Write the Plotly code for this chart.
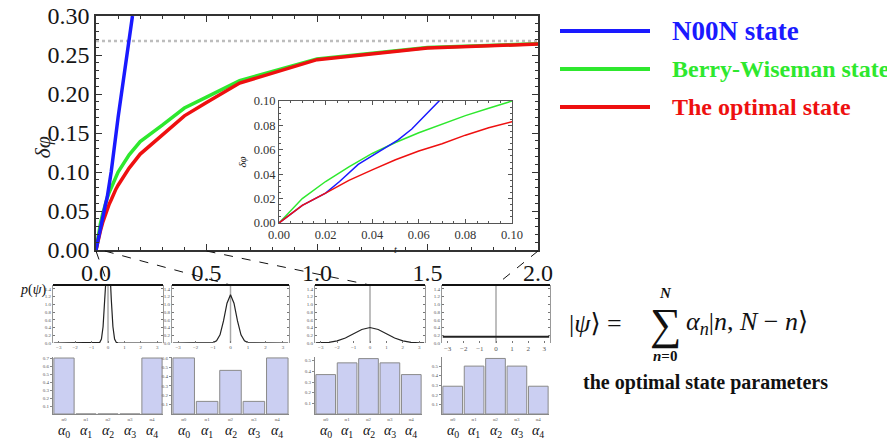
import plotly.graph_objects as go

W, H = 895, 439
OFF = 8                      # default page margin of the html body
FW, FH = W - OFF, H - OFF    # figure size so that it fits the window

# ---------------- data ----------------
t_curve = [0, 0.01, 0.02, 0.03, 0.04, 0.05, 0.06, 0.07, 0.08, 0.09, 0.1,
           0.15, 0.2, 0.3, 0.4, 0.5, 0.65, 1.0, 1.5, 2.0]
bw_dphi = [0, 0.02, 0.034, 0.046, 0.057, 0.066, 0.074, 0.081, 0.088, 0.094, 0.100,
           0.122, 0.139, 0.160, 0.182, 0.196, 0.217, 0.245, 0.2595, 0.2645]
opt_dphi = [0, 0.0145, 0.0245, 0.035, 0.0436, 0.0518, 0.059, 0.065, 0.072, 0.078, 0.083,
            0.105, 0.123, 0.148, 0.172, 0.189, 0.214, 0.244, 0.259, 0.264]
t_noon = [0, 0.01, 0.02, 0.026, 0.034, 0.043, 0.051, 0.057, 0.0687, 0.1, 0.165]
noon_dphi = [0, 0.0145, 0.0245, 0.034, 0.048, 0.0586, 0.068, 0.077, 0.1, 0.17, 0.30]
dphi_limit = 0.268

phi_p1 = [-3.3, -0.6, -0.5, -0.4, -0.3, -0.2, -0.1, 0, 0.1, 0.2, 0.3, 0.4, 0.5, 0.6, 3.3]
prob_p1 = [0, 0.002, 0.017, 0.1, 0.42, 1.13, 2.05, 2.5, 2.05, 1.13, 0.42, 0.1, 0.017, 0.002, 0]
phi_p2 = [-3.3, -1.2, -1.0, -0.8, -0.6, -0.4, -0.2, 0, 0.2, 0.4, 0.6, 0.8, 1.0, 1.2, 3.3]
prob_p2 = [0, 0.001, 0.01, 0.055, 0.21, 0.57, 1.03, 1.25, 1.03, 0.57, 0.21, 0.055, 0.01, 0.001, 0]
phi_p3 = [-3.3, -3, -2.5, -2, -1.5, -1, -0.5, 0, 0.5, 1, 1.5, 2, 2.5, 3, 3.3]
prob_p3 = [0.002, 0.004, 0.018, 0.054, 0.13, 0.24, 0.35, 0.4, 0.35, 0.24, 0.13, 0.054, 0.018, 0.004, 0.002]
phi_p4 = [-3.3, 3.3]
prob_p4 = [0.16, 0.16]
true_phase = 0

alpha_names = ["α0", "α1", "α2", "α3", "α4"]
alpha_p1 = [0.707, 0, 0, 0, 0.707]
alpha_p2 = [0.6, 0.135, 0.467, 0.135, 0.6]
alpha_p3 = [0.37, 0.48, 0.52, 0.48, 0.37]
alpha_p4 = [0.29, 0.50, 0.58, 0.50, 0.29]

panel_t = [0.0, 0.04, 0.5, 2.0]

main_xticks = [0, 0.5, 1.0, 1.5, 2.0]
main_yticks = [0, 0.05, 0.10, 0.15, 0.20, 0.25, 0.30]
inset_ticks = [0, 0.02, 0.04, 0.06, 0.08, 0.10]
phi_ticks = [-3, -2, -1, 0, 1, 2, 3]
prob_ticks = [0, 0.2, 0.4, 0.6, 0.8, 1.0, 1.2, 1.4]

legend_names = ["N00N state", "Berry-Wiseman state", "The optimal state"]

# ---------------- style ----------------
C_BLUE = "#1a1aff"
C_GREEN = "#2ee82e"
C_RED = "#ee1010"
SERIF = "Liberation Serif, DejaVu Serif, serif"
AX = "#333333"


def fx(px):
    return (px - OFF) / FW


def fy(py):
    return 1 - (py - OFF) / FH


fig = go.Figure()

# main plot
fig.add_trace(go.Scatter(x=[0, 2], y=[dphi_limit, dphi_limit], mode="lines",
                         line=dict(color="#bdbdbd", width=2.5, dash="dot"),
                         xaxis="x", yaxis="y", showlegend=False))
fig.add_trace(go.Scatter(x=t_curve, y=bw_dphi, mode="lines", line=dict(color=C_GREEN, width=3.5),
                         xaxis="x", yaxis="y", showlegend=False))
fig.add_trace(go.Scatter(x=t_curve, y=opt_dphi, mode="lines", line=dict(color=C_RED, width=3.5),
                         xaxis="x", yaxis="y", showlegend=False))
fig.add_trace(go.Scatter(x=t_noon, y=noon_dphi, mode="lines", line=dict(color=C_BLUE, width=3.5),
                         xaxis="x", yaxis="y", showlegend=False))

# inset
fig.add_trace(go.Scatter(x=t_curve, y=bw_dphi, mode="lines", line=dict(color=C_GREEN, width=1.5),
                         xaxis="x2", yaxis="y2", showlegend=False))
fig.add_trace(go.Scatter(x=t_noon, y=noon_dphi, mode="lines", line=dict(color=C_BLUE, width=1.5),
                         xaxis="x2", yaxis="y2", showlegend=False))
fig.add_trace(go.Scatter(x=t_curve, y=opt_dphi, mode="lines", line=dict(color=C_RED, width=1.5),
                         xaxis="x2", yaxis="y2", showlegend=False))

# probability panels
prob_sets = [(phi_p1, prob_p1), (phi_p2, prob_p2), (phi_p3, prob_p3), (phi_p4, prob_p4)]
for i, (ph, pr) in enumerate(prob_sets):
    n = 3 + i
    fig.add_trace(go.Scatter(x=ph, y=pr, mode="lines",
                             line=dict(color="#222", width=2 if i == 3 else 1.2),
                             xaxis=f"x{n}", yaxis=f"y{n}", showlegend=False))

# bar panels
bar_sets = [alpha_p1, alpha_p2, alpha_p3, alpha_p4]
for i, vals in enumerate(bar_sets):
    n = 7 + i
    fig.add_trace(go.Bar(x=alpha_names, y=vals, width=0.92,
                         marker=dict(color="#cbcff2", line=dict(color="#8a8a8a", width=1)),
                         xaxis=f"x{n}", yaxis=f"y{n}", showlegend=False))

layout = dict(
    width=FW, height=FH, margin=dict(l=0, r=0, t=0, b=0, autoexpand=False),
    paper_bgcolor="white", plot_bgcolor="rgba(0,0,0,0)",
    font=dict(family=SERIF, color="#222"),
    showlegend=False,
)

common_main = dict(showgrid=False, zeroline=False, showline=True, linecolor=AX, linewidth=1.5,
                   mirror="ticks", ticks="inside", tickcolor=AX, tickwidth=1.3, ticklen=6,
                   automargin=False, ticklabeloverflow="allow")

layout["xaxis"] = dict(domain=[fx(96), fx(538)], range=[0, 2], anchor="y",
                       tickvals=main_xticks, tickformat=".1f",
                       tickfont=dict(size=24, family=SERIF, color="#151515"),
                       minor=dict(dtick=0.1, ticks="inside", ticklen=3, tickcolor=AX),
                       **common_main)
layout["yaxis"] = dict(domain=[fy(250), fy(16)], range=[0, 0.3], anchor="x",
                       tickvals=main_yticks, tickformat=".2f",
                       tickfont=dict(size=24, family=SERIF, color="#151515"),
                       minor=dict(dtick=0.01, ticks="inside", ticklen=3, tickcolor=AX),
                       **common_main)

common_inset = dict(showgrid=False, zeroline=False, showline=True, linecolor="#555", linewidth=1,
                    mirror="ticks", ticks="inside", tickcolor="#555", tickwidth=1, ticklen=4,
                    range=[0, 0.1], tickvals=inset_ticks, tickformat=".2f", automargin=False,
                    tickfont=dict(size=12.5, family=SERIF, color="#333"),
                    minor=dict(dtick=0.005, ticks="inside", ticklen=2, tickcolor="#555"))
layout["xaxis2"] = dict(domain=[fx(279), fx(512)], anchor="y2",
                        title=dict(text="<i>t</i>", font=dict(size=10, family=SERIF), standoff=4),
                        **common_inset)
layout["yaxis2"] = dict(domain=[fy(223), fy(101)], anchor="x2",
                        title=dict(text="<i>δφ</i>", font=dict(size=11, family=SERIF), standoff=4),
                        **common_inset)

top_x = [(53, 163), (172, 289), (315, 425), (442, 550)]
bot_x = [(53, 163), (172, 289), (315, 422), (442, 549)]
bar_ranges = [0.72, 0.61, 0.535, 0.595]
bar_ticks = [[0.1, 0.2, 0.3, 0.4, 0.5, 0.6, 0.7], [0.1, 0.2, 0.3, 0.4, 0.5, 0.6],
             [0.1, 0.2, 0.3, 0.4, 0.5], [0.1, 0.2, 0.3, 0.4, 0.5]]

shapes = []
annotations = []

for i in range(4):
    n = 3 + i
    x0, x1 = top_x[i]
    layout[f"xaxis{n}"] = dict(domain=[fx(x0), fx(x1)], range=[-3.35, 3.35], anchor=f"y{n}",
                               showgrid=False, zeroline=False, showline=False, automargin=False,
                               ticks="inside", ticklen=2, tickcolor="#777",
                               tickvals=phi_ticks,
                               ticktext=[str(v) if v >= 0 else "−" + str(-v) for v in phi_ticks],
                               tickfont=dict(size=7 if i == 3 else 5, color="#555"))
    layout[f"yaxis{n}"] = dict(domain=[fy(343), fy(285)], range=[0, 1.5], anchor=f"x{n}",
                               showgrid=False, zeroline=False, showline=True, linecolor="#999", linewidth=1,
                               mirror="ticks", ticks="inside", ticklen=2, tickcolor="#777", automargin=False,
                               tickvals=prob_ticks, tickformat=".1f",
                               tickfont=dict(size=5, color="#555"))
    shapes.append(dict(type="line", xref=f"x{n}", yref=f"y{n} domain",
                       x0=true_phase, x1=true_phase, y0=0, y1=1,
                       line=dict(color="#a8a8a8", width=1.5), layer="below"))
    shapes.append(dict(type="line", xref=f"x{n} domain", yref=f"y{n} domain",
                       x0=0, x1=1, y0=1, y1=1, line=dict(color="#111", width=2)))

for i in range(4):
    n = 7 + i
    x0, x1 = bot_x[i]
    layout[f"xaxis{n}"] = dict(domain=[fx(x0), fx(x1)], range=[-0.5, 4.5], anchor=f"y{n}",
                               type="category", automargin=False,
                               showgrid=False, zeroline=False, showline=True, linecolor="#888", linewidth=1,
                               ticks="", ticklabelstandoff=0,
                               tickfont=dict(size=5, color="#666"))
    layout[f"yaxis{n}"] = dict(domain=[fy(414), fy(357)], range=[0, bar_ranges[i]], anchor=f"x{n}",
                               showgrid=False, zeroline=False, showline=True, linecolor="#888", linewidth=1,
                               ticks="outside", ticklen=2, tickcolor="#888", automargin=False,
                               tickvals=bar_ticks[i], tickformat=".1f",
                               tickfont=dict(size=5, color="#555"))
    for k, name in enumerate(alpha_names):
        annotations.append(dict(x=name, y=fy(431), xref=f"x{n}", yref="paper",
                                text=f"<i>α</i><sub>{name[1:]}</sub>", showarrow=False,
                                font=dict(size=14, family=SERIF, color="#111"), borderpad=0,
                                xanchor="center", yanchor="middle"))

# connectors from main axis to panels
main_dom = layout["xaxis"]["domain"]
for i, tv in enumerate(panel_t):
    xs = main_dom[0] + tv / 2.0 * (main_dom[1] - main_dom[0])
    xe = fx((top_x[i][0] + top_x[i][1]) / 2)
    shapes.append(dict(type="line", xref="paper", yref="paper", x0=xs, y0=fy(251), x1=xe, y1=fy(285),
                       line=dict(color="#111", width=1, dash="dash")))

# legend drawn manually
legend_colors = [C_BLUE, C_GREEN, C_RED]
legend_y = [31, 69, 107]
legend_sizes = [27, 24, 24]
for name, col, yy, sz in zip(legend_names, legend_colors, legend_y, legend_sizes):
    shapes.append(dict(type="line", xref="paper", yref="paper", x0=fx(560), x1=fx(650),
                       y0=fy(yy), y1=fy(yy), line=dict(color=col, width=4)))
    annotations.append(dict(x=fx(670), y=fy(yy), xref="paper", yref="paper", text=f"<b>{name}</b>",
                            showarrow=False, xanchor="left", yanchor="middle",
                            font=dict(size=sz, family=SERIF, color=col)))

# axis titles / labels
annotations.append(dict(x=fx(27), y=fy(135), xref="paper", yref="paper", text="<i>δφ</i>",
                        textangle=-90, showarrow=False, font=dict(size=22, family=SERIF, color="#222")))
annotations.append(dict(x=fx(19), y=fy(299), xref="paper", yref="paper", text="<i>p</i>(<i>ψ</i>)",
                        showarrow=False, borderpad=0, font=dict(size=14, family=SERIF, color="#111")))

# formula
annotations.append(dict(x=fx(567), y=fy(323), xref="paper", yref="paper",
                        text="|<i>ψ</i>⟩ =", showarrow=False, xanchor="left", yanchor="middle",
                        font=dict(size=26, family=SERIF, color="#111")))
annotations.append(dict(x=fx(665), y=fy(324), xref="paper", yref="paper",
                        text="∑", showarrow=False, xanchor="center", yanchor="middle",
                        font=dict(size=44, family=SERIF, color="#111")))
annotations.append(dict(x=fx(665), y=fy(293), xref="paper", yref="paper",
                        text="<b><i>N</i></b>", showarrow=False, xanchor="center", yanchor="middle",
                        font=dict(size=15, family=SERIF, color="#111")))
annotations.append(dict(x=fx(665), y=fy(356), xref="paper", yref="paper",
                        text="<b><i>n</i>=0</b>", showarrow=False, xanchor="center", yanchor="middle",
                        font=dict(size=15, family=SERIF, color="#111")))
annotations.append(dict(x=fx(684), y=fy(323), xref="paper", yref="paper",
                        text="<i>α<sub>n</sub></i>|<i>n</i>, <i>N</i> − <i>n</i>⟩", showarrow=False,
                        xanchor="left", yanchor="middle",
                        font=dict(size=26, family=SERIF, color="#111")))
annotations.append(dict(x=fx(705), y=fy(382), xref="paper", yref="paper",
                        text="<b>the optimal state parameters</b>", showarrow=False,
                        xanchor="center", yanchor="middle",
                        font=dict(size=20, family=SERIF, color="#111")))

layout["shapes"] = shapes
layout["annotations"] = annotations
fig.update_layout(**layout)

fig.write_html("out.html")
